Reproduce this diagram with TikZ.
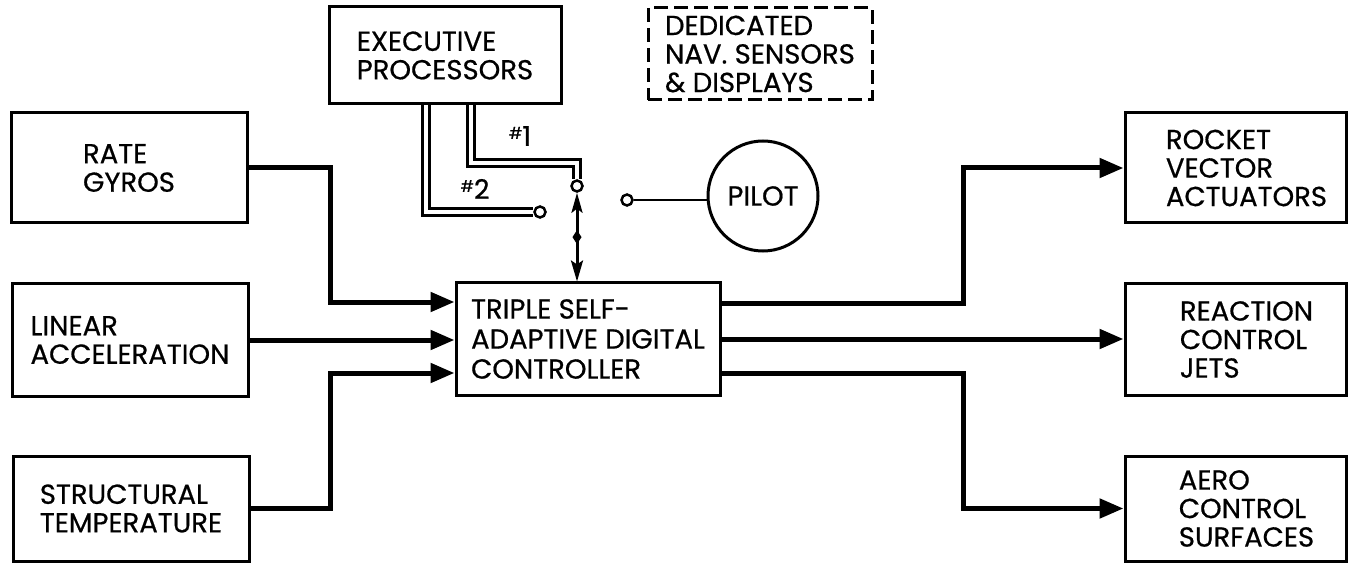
\documentclass[tikz,border=0pt]{standalone}
\usepackage{fontspec}
\setmainfont{Poppins}[FakeBold=0.6]
\usetikzlibrary{arrows.meta}

\tikzset{
  blk/.style={draw, line width=3pt, align=left, inner sep=0pt,
    font=\fontsize{27.5}{28.5}\selectfont},
  rblk/.style={draw, line width=3pt, inner sep=0pt, minimum width=221pt,
    label={[align=left, inner sep=0pt, xshift=11pt, font=\fontsize{27.5}{28.5}\selectfont]center:#1}},
  conn/.style={line width=5pt, -{Triangle[length=24pt,width=19pt]}},
  dbl/.style={double, double distance=4pt, line width=2.6pt},
  sw/.style={circle, draw, line width=2.5pt, fill=white, inner sep=0pt, minimum size=11pt},
  lbl/.style={font=\fontsize{27}{27}\selectfont, inner sep=0pt},
}

\begin{document}
\begin{tikzpicture}[x=1pt, y=-1pt]
  \useasboundingbox (0,0) rectangle (1350,564);
  \fill[white] (0,0) rectangle (1350,564);

  % top row
  \node[blk, minimum width=232pt, minimum height=97pt] (exec) at (445,55.5) {EXECUTIVE\\PROCESSORS};
  \node[blk, dash pattern=on 14pt off 6pt, minimum width=224pt, minimum height=92pt] (nav) at (760,54) {DEDICATED\\NAV. SENSORS\\\& DISPLAYS};

  % sensors
  \node[blk, minimum width=236pt, minimum height=110pt] (rate) at (129,168) {RATE\\GYROS};
  \node[blk, minimum width=236pt, minimum height=112pt] (lin) at (130,340) {LINEAR\\ACCELERATION};
  \node[blk, minimum width=236pt, minimum height=105pt] (temp) at (131,508.5) {STRUCTURAL\\TEMPERATURE};

  % controller
  \node[blk, minimum width=264pt, minimum height=112pt,
        font=\fontsize{27.5}{30}\selectfont] (ctl) at (588,339) {TRIPLE SELF-\\ADAPTIVE DIGITAL\\CONTROLLER};

  % effectors
  \node[rblk={ROCKET\\VECTOR\\ACTUATORS}, minimum height=110pt] (rva) at (1235.5,168) {};
  \node[rblk={REACTION\\CONTROL\\JETS}, minimum height=111pt] (rcj) at (1235.5,339.5) {};
  \node[rblk={AERO\\CONTROL\\SURFACES}, minimum height=105pt] (acs) at (1235.5,508.5) {};

  % pilot
  \node[circle, draw, line width=3pt, minimum size=110pt, inner sep=0pt,
        font=\fontsize{27.5}{28}\selectfont] (pilot) at (763,196) {PILOT};

  % switch contacts
  \node[sw] (c1) at (577,186) {};
  \node[sw] (c2) at (540,212) {};
  \node[sw] (c3) at (627,200) {};
  \coordinate (k1) at (577,163);
  \coordinate (jl) at (330,0);
  \coordinate (jr) at (963,0);

  % processor channels
  \draw[dbl] ([xshift=-19pt]exec.south) |- (c2.west);
  \draw[dbl] ([xshift=26pt]exec.south) |- (k1) -- (c1.north);
  \node[lbl] (n1) at (520,136) {\raisebox{7pt}{\fontsize{16}{16}\selectfont\#}1};
  \node[lbl] (n2) at (475,189) {\raisebox{7pt}{\fontsize{16}{16}\selectfont\#}2};

  % pilot link
  \draw[line width=2.5pt] (c3.east) -- (c3 -| pilot.west);

  % bus to controller, with its midpoint marker
  \draw[line width=3pt, {Stealth[length=20pt,width=11pt,inset=4pt]}-{Stealth[length=21pt,width=12pt,inset=4pt]}]
    (c1.south) -- coordinate[pos=0.5] (dm) (c1.south |- ctl.north);
  \fill ([yshift=7pt]dm) -- ([xshift=4.5pt]dm) -- ([yshift=-7pt]dm) -- ([xshift=-4.5pt]dm) -- cycle;

  % sensor inputs
  \draw[conn] (rate.east) -- (rate.east -| jl) |- ([yshift=37pt]ctl.west);
  \draw[conn] (lin.east) -- (lin.east -| ctl.west);
  \draw[conn] (temp.east) -- (temp.east -| jl) |- ([yshift=-34pt]ctl.west);

  % controller outputs
  \draw[conn] ([yshift=36pt]ctl.east) -- ([yshift=36pt]ctl.east -| jr) |- (rva.west);
  \draw[conn] (ctl.east) -- (ctl.east -| rcj.west);
  \draw[conn] ([yshift=-34pt]ctl.east) -- ([yshift=-34pt]ctl.east -| jr) |- (acs.west);
\end{tikzpicture}
\end{document}
